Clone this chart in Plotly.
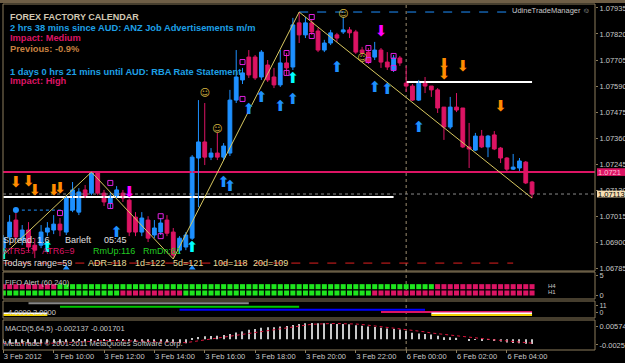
import plotly.graph_objects as go

W, H = 625, 363

# ---------------- data ----------------
bars = list(range(85))
opens = [1.06874, 1.06923, 1.06998, 1.06910, 1.06954, 1.06887, 1.06887, 1.06945, 1.06954, 1.06980,
         1.06945, 1.07042, 1.07033, 1.07131, 1.07117, 1.07206, 1.07117, 1.07073, 1.07104, 1.07117,
         1.07086, 1.07011, 1.06945, 1.06998, 1.06932, 1.06945, 1.06998, 1.06945, 1.06865, 1.06879,
         1.06918, 1.07272, 1.07343, 1.07276, 1.07294, 1.07276, 1.07294, 1.07528, 1.07617, 1.07718,
         1.07718, 1.07630, 1.07683, 1.07630, 1.07595, 1.07692, 1.07674, 1.07869, 1.07816, 1.07869,
         1.07833, 1.07749, 1.07780, 1.07816, 1.07829, 1.07838, 1.07829, 1.07749, 1.07740, 1.07718,
         1.07749, 1.07696, 1.07661, 1.07714, 1.07603, 1.07590, 1.07528, 1.07603, 1.07590, 1.07573,
         1.07497, 1.07409, 1.07497, 1.07493, 1.07321, 1.07307, 1.07369, 1.07321, 1.07374, 1.07316,
         1.07272, 1.07223, 1.07228, 1.07254, 1.07166]
highs = [1.06932, 1.07020, 1.07042, 1.06976, 1.06989, 1.06918, 1.06976, 1.06989, 1.07020, 1.07007,
         1.07108, 1.07166, 1.07139, 1.07153, 1.07210, 1.07210, 1.07131, 1.07122, 1.07148, 1.07131,
         1.07095, 1.07033, 1.07033, 1.07015, 1.06998, 1.07007, 1.07020, 1.06963, 1.06927, 1.06945,
         1.07285, 1.07528, 1.07515, 1.07316, 1.07383, 1.07338, 1.07573, 1.07749, 1.07670, 1.07749,
         1.07727, 1.07749, 1.07705, 1.07670, 1.07749, 1.07736, 1.07891, 1.07917, 1.07895, 1.07882,
         1.07847, 1.07794, 1.07838, 1.07825, 1.07895, 1.07851, 1.07838, 1.07763, 1.07758, 1.07785,
         1.07758, 1.07740, 1.07727, 1.07723, 1.07679, 1.07599, 1.07617, 1.07630, 1.07590, 1.07581,
         1.07497, 1.07542, 1.07559, 1.07493, 1.07427, 1.07383, 1.07396, 1.07374, 1.07391, 1.07321,
         1.07276, 1.07290, 1.07272, 1.07259, 1.07171]
lows = [1.06843, 1.06910, 1.06910, 1.06887, 1.06857, 1.06830, 1.06874, 1.06927, 1.06936, 1.06927,
        1.06932, 1.07033, 1.07020, 1.07095, 1.07108, 1.07108, 1.07060, 1.07051, 1.07095, 1.07078,
        1.06927, 1.06927, 1.06927, 1.06901, 1.06918, 1.06932, 1.06927, 1.06826, 1.06848, 1.06865,
        1.06910, 1.07055, 1.07241, 1.07263, 1.07263, 1.07263, 1.07281, 1.07515, 1.07599, 1.07626,
        1.07617, 1.07617, 1.07608, 1.07581, 1.07586, 1.07639, 1.07661, 1.07780, 1.07802, 1.07816,
        1.07740, 1.07740, 1.07771, 1.07785, 1.07820, 1.07802, 1.07732, 1.07723, 1.07687, 1.07705,
        1.07670, 1.07661, 1.07652, 1.07679, 1.07564, 1.07524, 1.07524, 1.07559, 1.07542, 1.07471,
        1.07352, 1.07400, 1.07475, 1.07316, 1.07228, 1.07303, 1.07316, 1.07276, 1.07307, 1.07250,
        1.07210, 1.07219, 1.07215, 1.07157, 1.07095]
closes = [1.06918, 1.06989, 1.06923, 1.06954, 1.06879, 1.06865, 1.06945, 1.06963, 1.06980, 1.06954,
          1.07100, 1.07131, 1.07122, 1.07104, 1.07206, 1.07117, 1.07078, 1.07104, 1.07131, 1.07095,
          1.06945, 1.06945, 1.07007, 1.06918, 1.06963, 1.06985, 1.06940, 1.06843, 1.06918, 1.06932,
          1.07276, 1.07343, 1.07276, 1.07294, 1.07276, 1.07325, 1.07528, 1.07630, 1.07648, 1.07639,
          1.07626, 1.07740, 1.07617, 1.07595, 1.07692, 1.07670, 1.07860, 1.07816, 1.07869, 1.07829,
          1.07749, 1.07780, 1.07825, 1.07802, 1.07838, 1.07825, 1.07740, 1.07736, 1.07696, 1.07749,
          1.07696, 1.07674, 1.07714, 1.07692, 1.07590, 1.07528, 1.07603, 1.07590, 1.07573, 1.07493,
          1.07409, 1.07497, 1.07484, 1.07321, 1.07312, 1.07369, 1.07321, 1.07369, 1.07312, 1.07272,
          1.07223, 1.07232, 1.07259, 1.07162, 1.07113]

time_tick_bars = [0, 8, 16, 24, 32, 40, 48, 56, 64, 72, 80]
time_tick_labels = ["3 Feb 2012", "3 Feb 10:00", "3 Feb 12:00", "3 Feb 14:00", "3 Feb 16:00",
                    "3 Feb 18:00", "3 Feb 20:00", "3 Feb 22:00", "6 Feb 00:00", "6 Feb 02:00",
                    "6 Feb 04:00"]
price_ticks = [1.07935, 1.07820, 1.07705, 1.07590, 1.07475, 1.07360, 1.07245, 1.07130,
               1.07015, 1.06900, 1.06785]

zigzag_bars = [0, 14, 27, 47, 84]
zigzag_prices = [1.06843, 1.07210, 1.06826, 1.07917, 1.07095]

# horizontal levels: price, first bar, last bar
magenta_level = [1.07210, -0.05, 94]
bid_level = [1.07113, -0.05, 94]
white_level_a = [1.07100, 0, 62]
white_level_b = [1.07608, 64, 84]
blue_dash_level = [1.07917, 47, 81.5]
red_dash_level = [1.06808, 0, 81]
blue_dot_level = [1.07042, 2, 12]

orange_dn_bars = [2, 4, 5, 8, 9, 70, 70, 73, 79]
orange_dn_prices = [1.07162, 1.07166, 1.07126, 1.07126, 1.07135, 1.07683, 1.07639, 1.07674, 1.07497]
magenta_dn_bars = [20, 60]
magenta_dn_prices = [1.07117, 1.07829]
blue_up_bars = [18, 35, 36, 39, 41, 44, 46, 53, 59, 61, 66]
blue_up_prices = [1.06940, 1.07162, 1.07144, 1.07484, 1.07537, 1.07497, 1.07528, 1.07670, 1.07581,
                  1.07573, 1.07405]
cyan_up_bars = [0, 7, 30, 46]
cyan_up_prices = [1.06843, 1.06874, 1.06874, 1.07621]
fractal_bars = [9, 17, 17, 25, 25, 38, 38, 45, 45, 49, 49, 58, 58, 62, 62]
fractal_prices = [1.07029, 1.07162, 1.07060, 1.07015, 1.06927, 1.07696, 1.07533, 1.07736, 1.07648,
                  1.07895, 1.07811, 1.07758, 1.07705, 1.07723, 1.07670]
smiley_bars = [32, 34, 54, 57]
smiley_prices = [1.07555, 1.07396, 1.07904, 1.07710]
tri_bars = [10, 30]
tri_prices = [1.06786, 1.06786]

fifo_row1_runs = [("dn", 9), ("up", 60), ("dn", 16)]
fifo_row2_runs = [("up", 19), ("dn", 10), ("up", 30), ("dn", 26)]
fifo_levels = [2.2, 0.55]

seg_start = [4, 9, 28, 60, 68, 0, 68, 0]
seg_end = [39, 47, 67, 84, 84, 7, 84, 7]
seg_level = [14.7, 11.3, 8.3, 6.0, 4.6, 4.6, 3.0, 3.0]
seg_color = ["#8a8a8a", "#00c800", "#0000ff", "#dc1464", "#ffffff", "#ffffff", "#f0d000", "#f0d000"]

macd_hist = [-0.0018, -0.0017, -0.0017, -0.0016, -0.0018, -0.0019, -0.0018, -0.0017, -0.0016, -0.0016,
             -0.0012, -0.0009, -0.0007, -0.0007, -0.0004, -0.0005, -0.0006, -0.0006, -0.0005, -0.0006,
             -0.0009, -0.0010, -0.0010, -0.0012, -0.0012, -0.0012, -0.0013, -0.0017, -0.0017, -0.0017,
             0.0005, 0.0010, 0.0013, 0.0014, 0.0015, 0.0018, 0.0023, 0.0029, 0.0034, 0.0041,
             0.0044, 0.0050, 0.0052, 0.0052, 0.0055, 0.0057, 0.0062, 0.0066, 0.0069, 0.0070,
             0.0069, 0.0069, 0.0067, 0.0066, 0.0066, 0.0065, 0.0061, 0.0058, 0.0055, 0.0053,
             0.0050, 0.0046, 0.0044, 0.0042, 0.0036, 0.0028, 0.0025, 0.0023, 0.0020, 0.0015,
             0.0008, 0.0008, 0.0006, 0.0000, -0.0004, -0.0003, -0.0004, -0.0003, -0.0005, -0.0010,
             -0.0014, -0.0016, -0.0017, -0.0020, -0.0021]
macd_signal = [-0.0019, -0.0018, -0.0018, -0.0017, -0.0017, -0.0017, -0.0018, -0.0018, -0.0018, -0.0017,
               -0.0016, -0.0014, -0.0012, -0.0010, -0.0008, -0.0006, -0.0006, -0.0006, -0.0006, -0.0006,
               -0.0006, -0.0007, -0.0008, -0.0009, -0.0011, -0.0011, -0.0012, -0.0013, -0.0014, -0.0015,
               -0.0011, -0.0007, -0.0003, 0.0001, 0.0006, 0.0010, 0.0014, 0.0018, 0.0021, 0.0025,
               0.0029, 0.0034, 0.0039, 0.0044, 0.0048, 0.0051, 0.0054, 0.0058, 0.0062, 0.0065,
               0.0066, 0.0068, 0.0068, 0.0068, 0.0068, 0.0067, 0.0066, 0.0064, 0.0061, 0.0058,
               0.0056, 0.0052, 0.0049, 0.0047, 0.0043, 0.0039, 0.0035, 0.0032, 0.0027, 0.0024,
               0.0020, 0.0016, 0.0013, 0.0010, 0.0006, 0.0003, 0.0001, -0.0001, -0.0003, -0.0005,
               -0.0008, -0.0010, -0.0013, -0.0015, -0.0017]

# ---------------- styling ----------------
BULL = "#1e90ff"
BEAR = "#dc1464"
FRAME = "#8c7c5c"
LABEL = "#c8c8c8"
SANS = "Liberation Sans"


def px(x):
    return x / W


def py(y):
    return 1 - y / H


XR = [-0.05, 94]
fig = go.Figure()


def hline(level, color, width, dash="solid", yaxis="y"):
    fig.add_trace(go.Scatter(x=[level[1], level[2]], y=[level[0], level[0]], mode="lines",
                             line=dict(color=color, width=width, dash=dash), yaxis=yaxis,
                             hoverinfo="skip"))


# horizontal lines in main chart
hline(red_dash_level, "#e02020", 1, "dash")
hline(bid_level, "#8a8a8a", 1, "dot")
hline(white_level_a, "#ffffff", 2)
hline(white_level_b, "#ffffff", 2)
hline(magenta_level, BEAR, 2)
hline(blue_dash_level, "#1e90ff", 1, "dash")
hline(blue_dot_level, "#1e90ff", 1, "dot")

# candles: wicks
for up in (True, False):
    xs, ys = [], []
    for i in bars:
        if (closes[i] >= opens[i]) == up:
            xs += [i, i, None]
            ys += [highs[i], lows[i], None]
    fig.add_trace(go.Scatter(x=xs, y=ys, mode="lines", line=dict(color=BULL if up else BEAR, width=1),
                             hoverinfo="skip"))

body_base = [min(o, c) for o, c in zip(opens, closes)]
body_len = [abs(c - o) for o, c in zip(opens, closes)]
body_col = [BULL if c >= o else BEAR for o, c in zip(opens, closes)]
fig.add_trace(go.Bar(x=bars, y=body_len, base=body_base, width=0.6,
                     marker=dict(color=body_col, line=dict(color=body_col, width=1)), hoverinfo="skip"))

# zigzag
fig.add_trace(go.Scatter(x=zigzag_bars, y=zigzag_prices, mode="lines",
                         line=dict(color="#d8c860", width=1), hoverinfo="skip"))


def glyphs(xs, ys, ch, color, size=15):
    fig.add_trace(go.Scatter(x=xs, y=ys, mode="text", text=[ch] * len(xs),
                             textfont=dict(family="DejaVu Sans", size=size, color=color),
                             hoverinfo="skip"))


glyphs(orange_dn_bars, orange_dn_prices, "⬇", "#ff8c00")
glyphs(magenta_dn_bars, magenta_dn_prices, "⬇", "#ff00ff")
glyphs(blue_up_bars, blue_up_prices, "⬆", "#1e90ff")
glyphs(cyan_up_bars, cyan_up_prices, "⬆", "#00ffff")
glyphs(smiley_bars, smiley_prices, "☺", "#d8b840", 10)
fig.add_trace(go.Scatter(x=fractal_bars, y=fractal_prices, mode="markers",
                         marker=dict(symbol="square-open", size=5, color="#e020e0", line=dict(width=1)),
                         hoverinfo="skip"))
fig.add_trace(go.Scatter(x=[blue_dot_level[1]], y=[blue_dot_level[0]], mode="markers",
                         marker=dict(symbol="circle", size=6, color="#1e90ff"), hoverinfo="skip"))
fig.add_trace(go.Scatter(x=tri_bars, y=tri_prices, mode="markers",
                         marker=dict(symbol="triangle-up", size=6, color="#1e90ff"), hoverinfo="skip"))

# FIFO panel
for runs, lvl in zip((fifo_row1_runs, fifo_row2_runs), fifo_levels):
    cols = []
    for state, n in runs:
        cols += [("#1ee61e" if state == "up" else BEAR)] * n
    fig.add_trace(go.Scatter(x=bars, y=[lvl] * len(bars), mode="markers", yaxis="y2",
                             marker=dict(symbol="square", size=5, color=cols), hoverinfo="skip"))

# second panel segments
for s, e, l, c in zip(seg_start, seg_end, seg_level, seg_color):
    fig.add_trace(go.Scatter(x=[s, e], y=[l, l], mode="lines", yaxis="y3",
                             line=dict(color=c, width=2), hoverinfo="skip"))

# MACD panel
fig.add_trace(go.Bar(x=bars, y=macd_hist, width=0.17, yaxis="y4",
                     marker=dict(color="#c8c8c8", line=dict(width=0)), hoverinfo="skip"))
fig.add_trace(go.Scatter(x=bars, y=macd_signal, mode="lines", yaxis="y4",
                         line=dict(color="#dc143c", width=1, dash="dot"), hoverinfo="skip"))

# ---------------- layout ----------------
tickfont = dict(family=SANS, size=7.5, color=LABEL)
xdom = [px(3), px(595)]
fig.update_layout(
    width=W, height=H, margin=dict(l=0, r=0, t=0, b=0), template="none",
    paper_bgcolor="#000000", plot_bgcolor="#000000", showlegend=False, barmode="overlay",
    xaxis=dict(domain=xdom, range=XR, anchor="y4", tickvals=time_tick_bars, ticktext=time_tick_labels,
               ticklabelposition="outside right", tickangle=0, ticks="outside", ticklen=3,
               tickcolor=FRAME, tickfont=tickfont, showgrid=False, zeroline=False, showline=False,
               automargin=False),
    yaxis=dict(domain=[py(271), py(5)], range=[1.06773, 1.07948], side="right", anchor="x",
               tickvals=price_ticks, ticktext=["%.5f" % p for p in price_ticks], ticks="outside",
               ticklen=2, tickcolor=FRAME, tickfont=tickfont, showgrid=False, zeroline=False,
               automargin=False),
    yaxis2=dict(domain=[py(299), py(272)], range=[-1, 6], side="right", anchor="x",
                tickvals=[5, 0], ticktext=["5", "0"], ticks="outside", ticklen=2, tickcolor=FRAME,
                tickfont=tickfont, showgrid=False, zeroline=False, automargin=False),
    yaxis3=dict(domain=[py(318), py(301)], range=[0, 17], side="right", anchor="x",
                tickvals=[12.5, 5.5], ticktext=["11", "0"], ticks="outside", ticklen=2, tickcolor=FRAME,
                tickfont=dict(family=SANS, size=7, color=LABEL), showgrid=False, zeroline=False,
                automargin=False),
    yaxis4=dict(domain=[py(349), py(321)], range=[-0.00425, 0.00791], side="right", anchor="x",
                tickvals=[0.00574, -0.00251], ticktext=["0.00574", "-0.00251"], ticks="outside",
                ticklen=2, tickcolor=FRAME, tickfont=tickfont, showgrid=False, zeroline=False,
                automargin=False),
)

shapes = []
# window top band
shapes.append(dict(type="rect", xref="paper", yref="paper", x0=0, x1=1, y0=py(3), y1=1,
                   fillcolor="#6e5e46", line=dict(width=0), layer="above"))
for top, bot in ((4, 271), (272, 299), (301, 318), (320, 350)):
    shapes.append(dict(type="rect", xref="paper", yref="paper", x0=px(3), x1=px(595), y0=py(bot),
                       y1=py(top), line=dict(color=FRAME, width=1), layer="above"))
# day separator
shapes.append(dict(type="line", xref="x", yref="paper", x0=64, x1=64, y0=py(350), y1=py(4),
                   line=dict(color="#9c8c70", width=1, dash="dot"), layer="below"))
# price boxes
shapes.append(dict(type="rect", xref="paper", yref="y", x0=px(597), x1=1, y0=1.07210 - 0.00017,
                   y1=1.07210 + 0.00017, fillcolor=BEAR, line=dict(width=0)))
shapes.append(dict(type="rect", xref="paper", yref="y", x0=px(597), x1=1, y0=1.07113 - 0.00015,
                   y1=1.07113 + 0.00015, fillcolor="#f5deb3", line=dict(width=0)))
fig.update_layout(shapes=shapes)

ann = []


def note(text, x, y, color, size=9, family=SANS, bold=False, yref="paper"):
    ann.append(dict(text=("<b>%s</b>" % text) if bold else text, x=px(x), y=py(y) if yref == "paper" else y,
                    xref="paper", yref=yref, xanchor="left", yanchor="middle", showarrow=False,
                    borderpad=0, borderwidth=0, font=dict(family=family, size=size, color=color)))


BLUE_T = "#1ea0e6"
note("FOREX FACTORY CALENDAR", 10, 17, "#d2c8b4", 9, bold=True)
note("2 hrs 38 mins since AUD: ANZ Job Advertisements m/m", 10, 28, BLUE_T, 9.3, bold=True)
note("Impact: Medium", 10, 38, BEAR, 9.3, bold=True)
note("Previous: -0.9%", 10, 49, "#c88040", 9.3, bold=True)
note("1 days 0 hrs 21 mins until AUD: RBA Rate Statement", 10, 72, BLUE_T, 9.3, bold=True)
note("Impact: High", 10, 81, BEAR, 9.3, bold=True)

note("Spread: 1.6", 3, 240, "#e0e0e0", 9)
note("Barleft", 65, 240, "#e0e0e0", 9)
note("05:45", 104, 240, "#e0e0e0", 9)
note("ATR5=7", 3, 251, BEAR, 9)
note("ATR6=9", 42, 251, BEAR, 9)
note("RmUp:116", 93, 251, "#22cc22", 9)
note("RmDn:61", 143, 251, "#22cc22", 9)
note("Todays range=59", 3, 263, "#dcdcdc", 9)
note("ADR=118", 88, 263, "#e6dc9a", 9)
note("1d=122", 135, 263, "#e6dc9a", 9)
note("5d=121", 173, 263, "#e6dc9a", 9)
note("10d=118", 213, 263, "#e6dc9a", 9)
note("20d=109", 253, 263, "#e6dc9a", 9)

note("UdineTradeManager ☺", 512, 10, LABEL, 7.5)
note("FIFO Alert (60,240)", 5, 282, LABEL, 7.5)
note("H4", 548, 286, LABEL, 6)
note("H1", 548, 292, LABEL, 6)
note("4.0000 2.0000", 8, 312, "#d0d0d0", 7.5)
note("MACD(5,64,5) -0.002137 -0.001701", 5, 328, LABEL, 7.5)
note("MetaTrader © 2001-2011 MetaQuotes Software Corp.", 4, 343, LABEL, 7.5)

note("1.0721", 598, 1.07210, "#ffc0d8", 7.5, yref="y")
note("1.07113", 598, 1.07113, "#000000", 7.5, yref="y")
fig.update_layout(annotations=ann)

fig.write_html("out.html")
